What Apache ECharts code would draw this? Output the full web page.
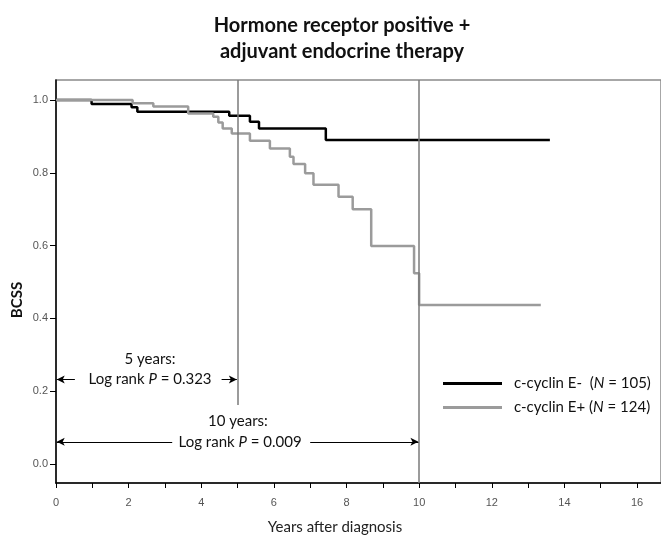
<!DOCTYPE html>
<html><head><meta charset="utf-8">
<script src="https://cdn.jsdelivr.net/npm/echarts@6/dist/echarts.min.js"></script>
<style>html,body{margin:0;padding:0;background:#fff}#c{width:661px;height:536px}</style>
</head><body><div id="c"></div>
<script>
// c-cyclin E- (N = 105)
const negTimes = [0, 0.98, 2.08, 2.24, 4.77, 5.34, 5.59, 7.43, 13.6];
const negSurv  = [1.0, 0.989, 0.980, 0.968, 0.957, 0.940, 0.922, 0.890, 0.890];
// c-cyclin E+ (N = 124)
const posTimes = [0, 2.11, 2.68, 3.64, 4.33, 4.47, 4.59, 4.84, 5.34, 5.89, 6.44, 6.54, 6.86, 7.09, 7.78, 8.17, 8.68, 9.86, 10.0, 13.35];
const posSurv  = [1.0, 0.991, 0.982, 0.963, 0.954, 0.938, 0.922, 0.908, 0.888, 0.867, 0.844, 0.824, 0.799, 0.767, 0.734, 0.700, 0.599, 0.524, 0.437, 0.437];
const seriesNames = ['c-cyclin E-', 'c-cyclin E+'];
const seriesN = [105, 124];
const xTicks = [0,1,2,3,4,5,6,7,8,9,10,11,12,13,14,15,16];
const xLabels = [0,2,4,6,8,10,12,14,16];
const yTicks = [0, 0.2, 0.4, 0.6, 0.8, 1.0];
const landmarkYears = [5, 10];
const pValues = ['0.323', '0.009'];

const FONT = 'Lato';
const chart = echarts.init(document.getElementById('c'));
const zip = (a, b) => a.map((t, i) => [t, b[i]]);

const option = {
  animation: false,
  backgroundColor: '#fff',
  title: {
    text: 'Hormone receptor positive +\nadjuvant endocrine therapy',
    left: 337, top: 8, textAlign: 'center',
    textStyle: { fontFamily: FONT, fontWeight: 'bold', fontSize: 20, lineHeight: 26, color: '#111' }
  },
  grid: { left: 56, right: 0, top: 80, bottom: 53, show: true, borderColor: '#8a8a8a', borderWidth: 1.5 },
  legend: {
    orient: 'vertical', left: 438, top: 371, itemWidth: 59, itemHeight: 3, itemGap: 9,
    icon: 'rect', selectedMode: false,
    data: seriesNames,
    formatter: name => {
      const i = seriesNames.indexOf(name);
      const pad = i === 0 ? '  ' : ' ';
      return '{a|' + name + pad + '(}{i|N}{a| = ' + seriesN[i] + ')}';
    },
    textStyle: {
      padding: [0, 0, 0, 7],
      rich: {
        a: { fontFamily: FONT, fontSize: 15, color: '#111', lineHeight: 18 },
        i: { fontFamily: FONT, fontSize: 15, color: '#111', fontStyle: 'italic', lineHeight: 18 }
      }
    }
  },
  xAxis: {
    type: 'value', min: 0, max: 16.66,
    axisLine: { onZero: false, lineStyle: { color: '#000', width: 1.5 } },
    axisTick: { customValues: xTicks, length: 5, lineStyle: { color: '#000' } },
    axisLabel: { customValues: xLabels, fontSize: 11, color: '#555', margin: 14, fontFamily: 'Liberation Sans' },
    splitLine: { show: false }
  },
  yAxis: {
    type: 'value', min: -0.0522, max: 1.0549,
    axisLine: { show: true, onZero: false, lineStyle: { color: '#000', width: 1.5 } },
    axisTick: { show: true, customValues: yTicks, length: 6, lineStyle: { color: '#000' } },
    axisLabel: { customValues: yTicks, formatter: v => v.toFixed(1), fontSize: 11, color: '#555', margin: 8, fontFamily: 'Liberation Sans' },
    splitLine: { show: false }
  },
  series: [
    {
      name: seriesNames[0], type: 'line', step: 'end', showSymbol: false,
      data: zip(negTimes, negSurv), color: '#000',
      lineStyle: { color: '#000', width: 2.5 }, z: 3,
      markLine: {
        silent: true, symbol: 'none', animation: false,
        lineStyle: { color: '#7a7a7a', width: 1.5, type: 'solid' },
        label: { show: false },
        data: [
          [{ coord: [landmarkYears[0], 1.0549] }, { coord: [landmarkYears[0], 0.162] }],
          [{ coord: [landmarkYears[1], 1.0549] }, { coord: [landmarkYears[1], -0.0522] }]
        ]
      }
    },
    {
      name: seriesNames[1], type: 'line', step: 'end', showSymbol: false,
      data: zip(posTimes, posSurv), color: '#9b9b9b',
      lineStyle: { color: '#9b9b9b', width: 2.5 }, z: 4
    },
    {
      name: 'arrows', type: 'line', data: [], silent: true,
      markLine: {
        silent: true, animation: false, symbol: ['arrow', 'none'], symbolSize: [6, 8],
        lineStyle: { color: '#000', width: 1, type: 'solid' },
        label: { show: false },
        data: [
          [{ coord: [0.52, 0.232] }, { coord: [0.02, 0.232] }],
          [{ coord: [4.56, 0.232] }, { coord: [4.98, 0.232] }],
          [{ coord: [3.2, 0.061] }, { coord: [0.02, 0.061] }],
          [{ coord: [7.0, 0.061] }, { coord: [9.98, 0.061] }]
        ].map(d => [Object.assign({ symbol: 'none' }, d[0]), Object.assign({ symbol: 'arrow' }, d[1])])
      }
    }
  ]
};
chart.setOption(option);

const px = (x, y) => chart.convertToPixel({ gridIndex: 0 }, [x, y]);
const txt = (x, y, parts, size) => {
  const p = px(x, y);
  return {
    type: 'text', x: p[0], y: p[1], silent: true,
    style: {
      text: parts, align: 'center', verticalAlign: 'middle',
      font: size + 'px ' + FONT, fill: '#111',
      rich: {
        a: { fontFamily: FONT, fontSize: size, fill: '#111' },
        i: { fontFamily: FONT, fontSize: size, fill: '#111', fontStyle: 'italic' }
      }
    }
  };
};
chart.setOption({
  graphic: [
    txt(2.59, 0.288, '{a|' + landmarkYears[0] + ' years:}', 15),
    txt(2.59, 0.232, '{a|Log rank }{i|P}{a| = ' + pValues[0] + '}', 15),
    txt(5.01, 0.119, '{a|' + landmarkYears[1] + ' years:}', 15),
    txt(5.07, 0.061, '{a|Log rank }{i|P}{a| = ' + pValues[1] + '}', 15),
    { type: 'text', x: 335, y: 527, silent: true,
      style: { text: 'Years after diagnosis', align: 'center', verticalAlign: 'middle', font: '15px ' + FONT, fill: '#222' } },
    { type: 'text', x: 17, y: 300, rotation: Math.PI / 2, silent: true,
      style: { text: 'BCSS', align: 'center', verticalAlign: 'middle', font: 'bold 15px ' + FONT, fill: '#111' } }
  ]
});
</script>
</body></html>
